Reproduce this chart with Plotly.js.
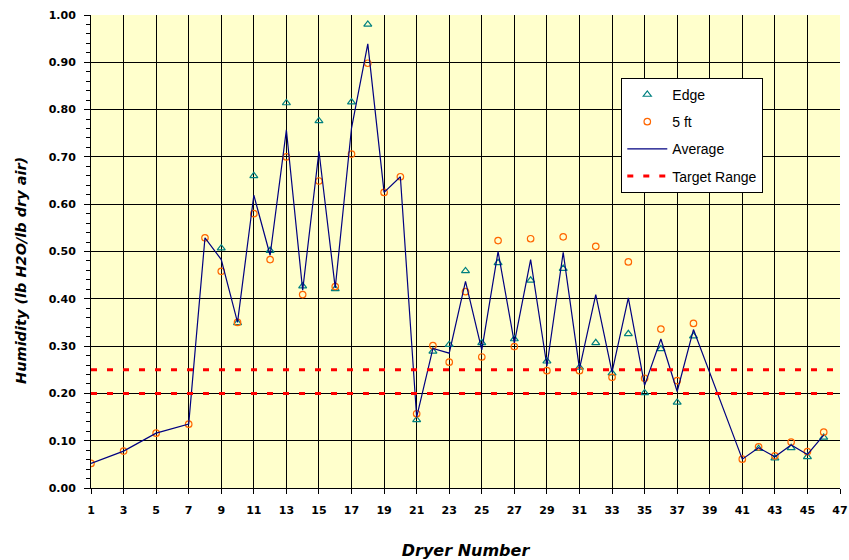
<!DOCTYPE html>
<html>
<head>
<meta charset="utf-8">
<script src="https://cdn.plot.ly/plotly-3.0.1.min.js"></script>
<style>html,body{margin:0;padding:0;background:#fff;}#chart{width:849px;height:560px;}</style>
</head>
<body>
<div id="chart"></div>
<script>
// Dryer numbers and humidity readings (lb H2O / lb dry air)
const dryers = [1,3,5,7,8,9,10,11,12,13,14,15,16,17,18,19,20,21,22,23,24,25,26,27,28,29,30,31,32,33,34,35,36,37,38,41,42,43,44,45,46];
const edge = [null,null,null,null,null,0.507,0.349,0.660,0.502,0.814,0.427,0.776,0.421,0.816,0.980,null,null,0.144,0.289,0.303,0.459,0.307,0.476,0.315,0.439,0.268,0.464,0.255,0.307,0.243,0.326,0.201,0.294,0.181,0.321,null,0.083,0.063,0.085,0.066,0.107];
const fiveFt = [0.052,0.078,0.116,0.135,0.529,0.458,0.350,0.580,0.483,0.700,0.409,0.649,0.426,0.706,0.898,0.625,0.658,0.157,0.301,0.266,0.415,0.277,0.523,0.299,0.527,0.248,0.531,0.248,0.511,0.234,0.478,0.232,0.336,0.227,0.348,0.061,0.087,0.068,0.097,0.077,0.118];
const average = [0.052,0.078,0.116,0.135,0.529,0.483,0.350,0.619,0.492,0.757,0.418,0.712,0.423,0.761,0.939,0.625,0.658,0.150,0.295,0.285,0.437,0.292,0.500,0.307,0.483,0.258,0.498,0.252,0.409,0.245,0.402,0.217,0.315,0.204,0.335,0.061,0.085,0.066,0.091,0.071,0.112];
const targetLow = 0.20;
const targetHigh = 0.25;
const xRange = [1, 47];
const xTickVals = [1,3,5,7,9,11,13,15,17,19,21,23,25,27,29,31,33,35,37,39,41,43,45,47];
const xTitle = 'Dryer Number';
const yTitle = 'Humidity (lb H2O/lb dry air)';

const tickFont = "'DejaVu Sans', Verdana, sans-serif";
const legFont = "Arial, 'Liberation Sans', sans-serif";

const traces = [
  {
    x: dryers, y: edge, name: 'Edge', type: 'scatter', mode: 'markers',
    legendgroup: 'a',
    marker: {symbol: 'triangle-up-open', size: 7, color: '#008080', line: {width: 1.2}}
  },
  {
    x: dryers, y: fiveFt, name: '5 ft', type: 'scatter', mode: 'markers',
    legendgroup: 'b',
    marker: {symbol: 'circle-open', size: 6.5, color: '#FF6600', line: {width: 1.2}}
  },
  {
    x: dryers, y: average, name: 'Average', type: 'scatter', mode: 'lines',
    legendgroup: 'c', connectgaps: true,
    line: {color: '#000080', width: 1.2}
  },
  {
    x: [xRange[0], xRange[1], null, xRange[0], xRange[1]],
    y: [targetHigh, targetHigh, null, targetLow, targetLow],
    name: 'Target Range', type: 'scatter', mode: 'lines',
    legendgroup: 'd', connectgaps: false,
    line: {color: '#FF0000', width: 3, dash: '6px,10px'}
  }
];

const layout = {
  width: 849, height: 560,
  margin: {l: 91, r: 9, t: 15, b: 72},
  paper_bgcolor: '#ffffff',
  plot_bgcolor: '#FFFFCC',
  showlegend: true,
  legend: {
    x: 0.708, y: 0.867, xanchor: 'left', yanchor: 'top',
    bgcolor: '#ffffff', bordercolor: '#000000', borderwidth: 1,
    font: {family: legFont, size: 14, color: '#000'},
    traceorder: 'grouped', tracegroupgap: 6, itemwidth: 40
  },
  xaxis: {
    range: xRange, tickmode: 'array', tickvals: xTickVals,
    showgrid: true, gridcolor: '#000000', gridwidth: 1,
    zeroline: false, showline: true, linecolor: '#000', linewidth: 1,
    ticks: 'outside', ticklen: 5, tickcolor: '#000', ticklabelstandoff: 7,
    tickfont: {family: tickFont, size: 11, color: '#000', weight: 'bold'},
    title: {text: xTitle, standoff: 29,
      font: {family: tickFont, size: 16, color: '#000', weight: 'bold', style: 'italic'}}
  },
  yaxis: {
    range: [0, 1], dtick: 0.1, tick0: 0, tickformat: '.2f',
    showgrid: true, gridcolor: '#000000', gridwidth: 1,
    zeroline: false, showline: true, linecolor: '#000', linewidth: 1,
    ticks: 'outside', ticklen: 6, tickcolor: '#000', ticklabelstandoff: 6,
    minor: {dtick: 0.02, ticks: 'outside', ticklen: 4, tickcolor: '#000', showgrid: false},
    tickfont: {family: tickFont, size: 11, color: '#000', weight: 'bold'}
  },
  annotations: [{
    text: yTitle, xref: 'paper', yref: 'paper',
    x: -0.0935, y: 0.461, xanchor: 'center', yanchor: 'middle',
    textangle: -90, showarrow: false,
    font: {family: tickFont, size: 14.5, color: '#000', weight: 'bold', style: 'italic'}
  }]
};

Plotly.newPlot('chart', traces, layout, {displayModeBar: false, staticPlot: true});
</script>
</body>
</html>
